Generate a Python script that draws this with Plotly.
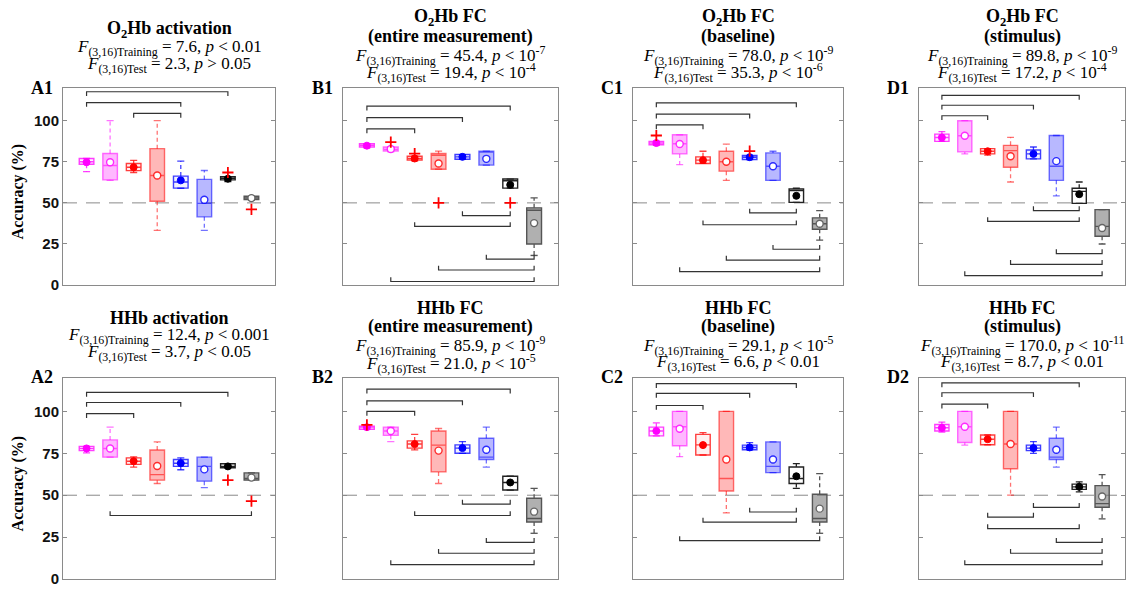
import plotly.graph_objects as go

# ---------------- data ----------------
PANELS = ["A1", "B1", "C1", "D1", "A2", "B2", "C2", "D2"]
X_POS = [1, 2, 3, 4, 5, 6, 7, 8]
Y_TICKS = [0, 25, 50, 75, 100]
CHANCE = 50

Q1 = [
    [73.5, 64.0, 69.6, 51.0, 59.0, 41.5, 64.0, 52.0],
    [84.0, 81.5, 76.0, 70.5, 76.5, 73.0, 59.0, 25.0],
    [85.4, 79.8, 74.0, 69.3, 76.4, 63.7, 50.3, 34.0],
    [87.4, 81.0, 79.8, 71.7, 76.8, 63.7, 49.7, 29.7],
    [76.6, 72.7, 68.4, 59.0, 67.2, 58.4, 66.4, 59.0],
    [89.3, 85.7, 78.1, 63.9, 75.0, 71.3, 53.1, 34.0],
    [85.4, 79.5, 74.0, 52.5, 77.1, 63.5, 57.0, 34.0],
    [88.3, 81.4, 80.1, 65.8, 76.6, 71.3, 53.5, 42.8],
]
MEDIAN = [
    [75.0, 72.7, 71.7, 66.7, 62.7, 49.7, 65.0, 53.0],
    [85.0, 82.5, 77.0, 79.0, 78.0, 81.0, 63.5, 45.5],
    [86.4, 86.0, 76.0, 75.0, 77.8, 72.3, 57.5, 37.3],
    [89.8, 90.8, 81.4, 81.8, 79.8, 72.3, 57.0, 35.7],
    [77.9, 77.9, 70.3, 62.3, 69.1, 67.2, 67.2, 60.0],
    [90.6, 88.3, 80.5, 79.9, 78.1, 72.7, 57.6, 36.1],
    [88.3, 90.8, 80.0, 60.0, 78.5, 67.2, 60.0, 36.1],
    [90.2, 90.8, 83.4, 80.5, 78.1, 72.7, 55.0, 45.0],
]
Q3 = [
    [77.0, 80.0, 74.0, 83.0, 66.3, 64.3, 66.0, 54.0],
    [86.0, 84.0, 78.4, 80.0, 79.4, 81.5, 64.5, 47.0],
    [87.4, 91.4, 78.0, 81.4, 78.8, 80.4, 58.5, 40.9],
    [91.8, 100.0, 83.0, 85.0, 82.2, 91.0, 58.9, 45.9],
    [79.1, 83.0, 72.3, 77.0, 71.3, 72.7, 68.8, 63.3],
    [91.2, 90.6, 82.4, 88.3, 80.0, 84.0, 61.3, 48.2],
    [90.6, 100.0, 86.3, 100.0, 79.9, 81.8, 66.8, 50.6],
    [92.2, 100.0, 85.9, 100.0, 79.9, 84.0, 56.6, 55.7],
]
LOWER = [
    [69.0, 63.7, 68.5, 33.3, 58.9, 33.3, 63.0, 51.5],
    [83.5, 81.0, 75.5, 70.5, 76.5, 73.0, 59.0, 18.0],
    [85.0, 73.3, 74.0, 63.7, 76.4, 63.7, 50.3, 27.3],
    [87.4, 79.8, 79.0, 62.7, 76.8, 54.3, 49.7, 25.0],
    [75.2, 72.7, 66.8, 57.0, 65.2, 54.5, 66.4, 59.0],
    [89.3, 82.0, 77.0, 57.0, 75.0, 66.8, 53.1, 27.3],
    [85.4, 73.0, 74.0, 39.5, 77.1, 63.5, 54.1, 27.3],
    [87.7, 79.9, 80.1, 50.0, 75.0, 66.8, 52.0, 35.9],
]
UPPER = [
    [77.0, 100.0, 75.8, 100.0, 75.4, 69.7, 66.0, 54.0],
    [86.0, 84.0, 78.4, 81.5, 79.4, 81.5, 64.5, 53.0],
    [87.4, 91.4, 81.4, 85.8, 78.8, 81.4, 58.9, 45.3],
    [93.4, 100.0, 83.0, 89.8, 84.0, 91.0, 62.7, 45.9],
    [79.1, 90.6, 72.9, 81.8, 72.3, 72.7, 68.8, 63.3],
    [91.2, 90.6, 86.3, 89.8, 82.0, 90.6, 61.3, 54.1],
    [93.2, 100.0, 87.3, 100.0, 81.4, 81.8, 68.8, 62.9],
    [93.6, 100.0, 85.9, 100.0, 82.0, 90.6, 58.0, 62.3],
]
MEAN = [
    [74.7, 74.7, 71.7, 66.7, 63.7, 51.9, 64.7, 52.9],
    [84.8, 82.8, 77.0, 74.0, 78.0, 76.8, 61.0, 37.7],
    [86.4, 85.8, 76.0, 75.0, 77.8, 72.3, 54.3, 37.3],
    [89.8, 90.8, 81.4, 78.4, 79.8, 75.4, 55.3, 34.7],
    [77.9, 77.9, 70.3, 67.4, 69.1, 65.4, 67.2, 60.5],
    [90.6, 88.3, 80.5, 76.6, 78.1, 77.1, 57.6, 40.2],
    [88.3, 89.6, 79.9, 71.3, 78.5, 71.3, 61.3, 42.0],
    [90.2, 90.8, 83.4, 80.5, 78.1, 77.1, 55.0, 49.2],
]
# outliers: (panel index, box position, value)
OUTLIERS = [
    (0, 7, 68.5), (0, 8, 46.0),
    (1, 2, 87.0), (1, 3, 80.0), (1, 4, 50.0), (1, 7, 50.0),
    (2, 1, 91.0), (2, 5, 81.5),
    (4, 7, 59.0), (4, 8, 46.5),
    (5, 1, 92.0),
]
# significance brackets: (panel index, from box, to box, level, direction)
BRACKETS = [
    (0, 1, 7, 117.6, -1), (0, 1, 5, 111.0, -1), (0, 3, 5, 104.4, -1),
    (1, 1, 7, 108.8, -1), (1, 1, 5, 101.8, -1), (1, 1, 3, 95.0, -1),
    (1, 5, 7, 42.3, 1), (1, 3, 7, 35.7, 1), (1, 6, 8, 15.8, 1), (1, 4, 8, 9.2, 1), (1, 2, 8, 2.2, 1),
    (2, 1, 7, 110.8, -1), (2, 1, 5, 104.0, -1), (2, 1, 3, 97.4, -1),
    (2, 5, 7, 43.9, 1), (2, 3, 7, 36.7, 1), (2, 6, 8, 21.8, 1), (2, 4, 8, 15.2, 1), (2, 2, 8, 8.2, 1),
    (3, 1, 7, 115.4, -1), (3, 1, 5, 109.4, -1), (3, 1, 3, 103.0, -1),
    (3, 5, 7, 45.3, 1), (3, 3, 7, 38.7, 1), (3, 6, 8, 19.2, 1), (3, 4, 8, 12.6, 1), (3, 2, 8, 5.8, 1),
    (4, 1, 7, 111.3, -1), (4, 1, 5, 105.3, -1), (4, 1, 3, 98.6, -1),
    (4, 2, 8, 37.9, 1),
    (5, 1, 7, 113.3, -1), (5, 1, 5, 106.3, -1), (5, 1, 3, 100.0, -1),
    (5, 5, 7, 44.7, 1), (5, 3, 7, 37.9, 1), (5, 6, 8, 21.9, 1), (5, 4, 8, 15.4, 1), (5, 2, 8, 8.6, 1),
    (6, 1, 7, 116.6, -1), (6, 1, 5, 110.7, -1), (6, 1, 3, 103.5, -1),
    (6, 5, 7, 40.0, 1), (6, 3, 7, 34.0, 1), (6, 2, 8, 22.9, 1),
    (7, 1, 7, 117.0, -1), (7, 1, 5, 111.1, -1), (7, 1, 3, 104.3, -1),
    (7, 5, 7, 42.8, 1), (7, 3, 5, 36.9, 1), (7, 3, 7, 30.1, 1), (7, 6, 8, 21.9, 1), (7, 4, 8, 15.4, 1), (7, 2, 8, 8.6, 1),
]
TITLES = [
    ["O<sub>2</sub>Hb activation"],
    ["O<sub>2</sub>Hb FC", "(entire measurement)"],
    ["O<sub>2</sub>Hb FC", "(baseline)"],
    ["O<sub>2</sub>Hb FC", "(stimulus)"],
    ["HHb activation"],
    ["HHb FC", "(entire measurement)"],
    ["HHb FC", "(baseline)"],
    ["HHb FC", "(stimulus)"],
]
F_TRAIN = ["7.6", "45.4", "78.0", "89.8", "12.4", "85.9", "29.1", "170.0"]
P_TRAIN = ["&lt; 0.01", "&lt; 10<sup>-7</sup>", "&lt; 10<sup>-9</sup>", "&lt; 10<sup>-9</sup>",
           "&lt; 0.001", "&lt; 10<sup>-9</sup>", "&lt; 10<sup>-5</sup>", "&lt; 10<sup>-11</sup>"]
F_TEST = ["2.3", "19.4", "35.3", "17.2", "3.7", "21.0", "6.6", "8.7"]
P_TEST = ["&gt; 0.05", "&lt; 10<sup>-4</sup>", "&lt; 10<sup>-6</sup>", "&lt; 10<sup>-4</sup>",
          "&lt; 0.05", "&lt; 10<sup>-5</sup>", "&lt; 0.01", "&lt; 0.01"]

BOX_COLORS = ["#ff00ff", "#ff00ff", "#ff0000", "#ff0000", "#0000ff", "#0000ff", "#000000", "#707070"]
IS_TEST = [False, True, False, True, False, True, False, True]

# ---------------- layout geometry (pixels) ----------------
W, H = 1129, 593
COL_PX = [(63, 275), (343, 558), (633, 843), (919, 1125)]
ROW_PX = [(89, 289), (383, 587)]


def rgba(hexc, a):
    h = hexc.lstrip("#")
    r, g, b = int(h[0:2], 16), int(h[2:4], 16), int(h[4:6], 16)
    return f"rgba({r},{g},{b},{a})"


fig = go.Figure()
layout = dict(width=W, height=H, margin=dict(l=0, r=0, t=0, b=0),
              paper_bgcolor="white", plot_bgcolor="white", showlegend=False)
shapes = []
annotations = []
AXC = "#8a8a8a"

for i, name in enumerate(PANELS):
    n = i + 1
    col, row = i % 4, i // 4
    xs = "x" if n == 1 else f"x{n}"
    ys = "y" if n == 1 else f"y{n}"
    xk = "xaxis" if n == 1 else f"xaxis{n}"
    yk = "yaxis" if n == 1 else f"yaxis{n}"
    x0p, x1p = COL_PX[col]
    y0p, y1p = ROW_PX[row]
    layout[xk] = dict(domain=[x0p / W, x1p / W], range=[0, 9], showline=True, mirror=True,
                      linecolor=AXC, linewidth=1, showticklabels=False, ticks="",
                      showgrid=False, zeroline=False, anchor=ys, fixedrange=True)
    layout[yk] = dict(domain=[1 - y1p / H, 1 - y0p / H], range=[0, 120], tickvals=Y_TICKS,
                      ticks="inside", ticklen=4, tickcolor=AXC, showline=True, mirror="ticks",
                      linecolor=AXC, linewidth=1, showgrid=False, zeroline=False,
                      showticklabels=(col == 0), anchor=xs, fixedrange=True,
                      tickfont=dict(family="Liberation Sans", size=15, color="#111", weight="bold"))

    # chance line
    shapes.append(dict(type="line", xref=f"{xs} domain", yref=ys, x0=0, x1=1, y0=CHANCE, y1=CHANCE,
                       line=dict(color="#8a8a8a", width=1, dash="14px,9px"), layer="below"))

    for j, pos in enumerate(X_POS):
        c = BOX_COLORS[j]
        test = IS_TEST[j]
        if test:
            fillc = rgba(c, 0.55) if j == 7 else rgba(c, 0.28)
            linec = "#555555" if j == 7 else rgba(c, 0.55)
        else:
            fillc = "rgba(255,255,255,0.9)" if j == 6 else rgba(c, 0.06)
            linec = "#222222" if j == 6 else rgba(c, 0.75)
        q1, med, q3 = Q1[i][j], MEDIAN[i][j], Q3[i][j]
        lo, hi = LOWER[i][j], UPPER[i][j]
        # whiskers
        fig.add_trace(go.Scatter(x=[pos, pos, None, pos, pos], y=[q3, hi, None, q1, lo],
                                 mode="lines", line=dict(color=linec, width=1.3, dash="4px,3px"),
                                 xaxis=xs, yaxis=ys, hoverinfo="skip"))
        # caps
        fig.add_trace(go.Scatter(x=[pos - 0.15, pos + 0.15, None, pos - 0.15, pos + 0.15],
                                 y=[hi, hi, None, lo, lo], mode="lines",
                                 line=dict(color=linec, width=1.3),
                                 xaxis=xs, yaxis=ys, hoverinfo="skip"))
        # box
        fig.add_trace(go.Box(x=[pos], q1=[q1], median=[med], q3=[q3], lowerfence=[q1], upperfence=[q3],
                             width=0.62, fillcolor=fillc, line=dict(color=linec, width=1.4),
                             whiskerwidth=0, boxpoints=False, xaxis=xs, yaxis=ys, hoverinfo="skip"))
        # mean
        if test:
            mk = dict(symbol="circle", size=7, color="white",
                      line=dict(color=("#666666" if j == 7 else rgba(c, 0.8)), width=1.4))
        else:
            mk = dict(symbol="circle", size=7, color=c, line=dict(color=c, width=1))
        fig.add_trace(go.Scatter(x=[pos], y=[MEAN[i][j]], mode="markers", marker=mk,
                                 xaxis=xs, yaxis=ys, hoverinfo="skip"))

    # outliers
    ox = [o[1] for o in OUTLIERS if o[0] == i]
    oy = [o[2] for o in OUTLIERS if o[0] == i]
    if ox:
        fig.add_trace(go.Scatter(x=ox, y=oy, mode="markers",
                                 marker=dict(symbol="cross-thin", size=8,
                                             line=dict(color="#ff0000", width=1.8)),
                                 xaxis=xs, yaxis=ys, hoverinfo="skip"))

    # brackets
    bx, by = [], []
    for (p, a, b, lvl, d) in BRACKETS:
        if p != i:
            continue
        t = 2.6 * d
        bx += [X_POS[a - 1], X_POS[a - 1], X_POS[b - 1], X_POS[b - 1], None]
        by += [lvl + t, lvl, lvl, lvl + t, None]
    fig.add_trace(go.Scatter(x=bx, y=by, mode="lines", line=dict(color="#333333", width=1.2),
                             xaxis=xs, yaxis=ys, hoverinfo="skip"))

    # titles and statistics
    cx = (x0p + x1p) / 2 / W
    if row == 0:
        if len(TITLES[i]) == 1:
            ys_px = [30, 49, 66]
        else:
            ys_px = [18, 37, 56, 73]
        lab_y = 89
    else:
        if len(TITLES[i]) == 1:
            ys_px = [322, 341, 358]
        else:
            ys_px = [312, 331, 350, 368]
        lab_y = 382
    k = 0
    for t in TITLES[i]:
        annotations.append(dict(x=cx, y=1 - ys_px[k] / H, xref="paper", yref="paper",
                                text=f"<b>{t}</b>", showarrow=False, xanchor="center", yanchor="middle",
                                font=dict(family="Liberation Serif", size=18, color="black")))
        k += 1
    annotations.append(dict(x=cx, y=1 - ys_px[k] / H, xref="paper", yref="paper",
                            text=f"<i>F</i><sub>(3,16)Training</sub> = {F_TRAIN[i]}, <i>p</i> {P_TRAIN[i]}",
                            showarrow=False, xanchor="center", yanchor="middle",
                            font=dict(family="Liberation Serif", size=17, color="black")))
    annotations.append(dict(x=cx, y=1 - ys_px[k + 1] / H, xref="paper", yref="paper",
                            text=f"<i>F</i><sub>(3,16)Test</sub> = {F_TEST[i]}, <i>p</i> {P_TEST[i]}",
                            showarrow=False, xanchor="center", yanchor="middle",
                            font=dict(family="Liberation Serif", size=17, color="black")))
    # panel label
    annotations.append(dict(x=(x0p - 21) / W, y=1 - lab_y / H, xref="paper", yref="paper",
                            text=f"<b>{name}</b>", showarrow=False, xanchor="center", yanchor="middle",
                            font=dict(family="Liberation Serif", size=18, color="black")))
    if col == 0:
        annotations.append(dict(x=18 / W, y=1 - ((y0p + y1p) / 2 + 5) / H, xref="paper", yref="paper",
                                text="<b>Accuracy (%)</b>", textangle=-90, showarrow=False,
                                xanchor="center", yanchor="middle",
                                font=dict(family="Liberation Serif", size=16, color="black")))

layout["shapes"] = shapes
layout["annotations"] = annotations
fig.update_layout(**layout)
fig.write_html("out.html")
